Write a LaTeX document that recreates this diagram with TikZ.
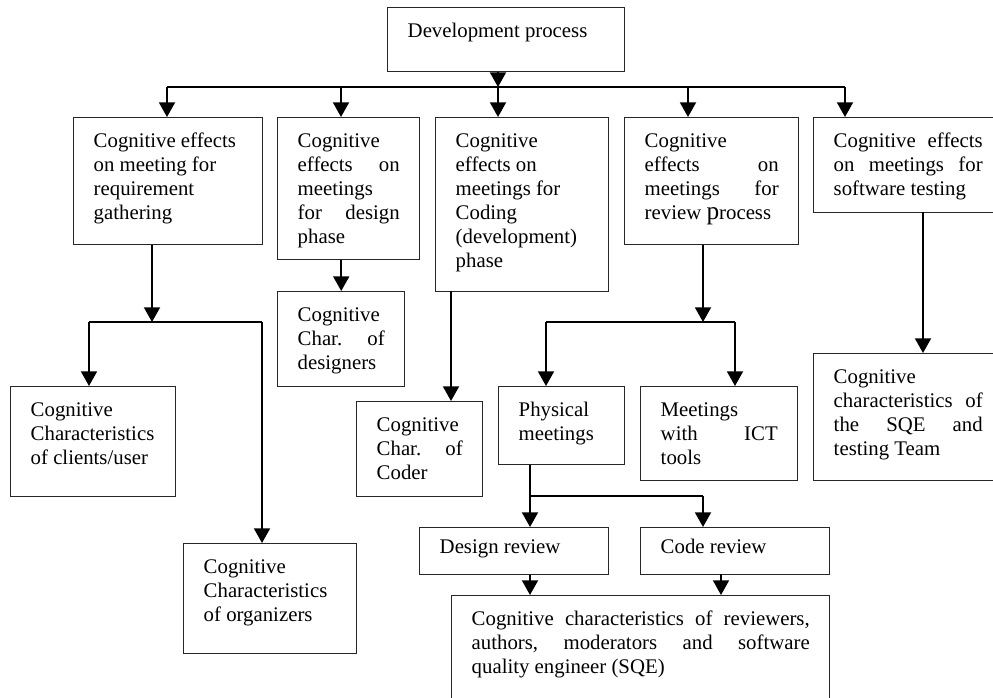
\documentclass[tikz,border=0pt]{standalone}
\usepackage{fontspec}
\setmainfont{Liberation Serif}
\usetikzlibrary{arrows.meta}
\newdimen\px \px=0.75pt
\newcommand{\btext}[4][30]{\parbox[c][#3\px][t]{#2\px}{\raggedright\rule{0pt}{#1\px}#4}}

\begin{document}
\begin{tikzpicture}[x=0.75pt,y=-0.75pt,
 box/.style={draw=black!85, line width=1.1pt, anchor=north west, inner xsep=15pt, inner ysep=0pt, font=\fontsize{15.6}{18}\selectfont},
 ln/.style={line width=1.4pt},
 arr/.style={line width=1.4pt, -{Triangle[width=12pt,length=11pt]}}]
\useasboundingbox (0,0) rectangle (993,698);
\clip (0,0) rectangle (993,698);

\node[box] (dev) at (387,7) {\btext{197}{64}{Development process}};
\node[box] (req) at (73,117) {\btext{149}{127}{Cognitive effects\\on meeting for\\requirement\\gathering}};
\node[box] (des) at (277,117) {\btext{102}{142}{Cognitive\\effects\hfill on\\meetings\\for\hfill design\\phase}};
\node[box] (cod) at (435,117) {\btext{133}{174}{Cognitive\\effects on\\meetings for\\Coding\\(development)\\phase}};
\node[box] (rev) at (624,117) {\btext{134}{127}{Cognitive\\effects\hfill on\\meetings\hfill for\\review {\fontsize{19}{18}\selectfont p}rocess}};
\node[box] (tst) at (813,117) {\btext{149}{95}{Cognitive\hfill effects\\on\hfill meetings\hfill for\\software testing}};

\node[box] (cli) at (10,386) {\btext{125}{110}{Cognitive\\Characteristics\\of clients/user}};
\node[box] (org) at (183,543) {\btext{133}{110}{Cognitive\\Characteristics\\of organizers}};
\node[box] (dsg) at (277,291) {\btext{87}{95}{Cognitive\\Char.\hfill of\\designers}};
\node[box] (cdr) at (356,401) {\btext{86}{95}{Cognitive\\Char.\hfill of\\Coder}};
\node[box] (phy) at (498,386) {\btext{86}{78}{Physical\\meetings}};
\node[box] (ict) at (640,386) {\btext{117}{94}{Meetings\\with\hfill ICT\\tools}};
\node[box] (dr) at (419,527) {\btext[26]{149}{47}{Design review}};
\node[box] (cr) at (640,527) {\btext[26]{149}{47}{Code review}};
\node[box] (sqe) at (813,353) {\btext{149}{127}{Cognitive\\characteristics\hfill of\\the\hfill SQE\hfill and\\testing Team}};
\node[box] (rvw) at (451,595) {\btext{338}{130}{Cognitive\hfill characteristics\hfill of\hfill reviewers,\\authors,\hfill moderators\hfill and\hfill software\\quality engineer (SQE)}};

\coordinate (t0) at (498,87); \coordinate (t1) at (167,87); \coordinate (t2) at (341,87);
\coordinate (t3) at (688,87); \coordinate (t4) at (845,87);
\draw[arr] (dev.south -| t0) -- (t0);
\draw[ln] (t1) -- (t4);
\foreach \b/\t in {req/t1,des/t2,cod/t0,rev/t3,tst/t4}
  \draw[arr] (\t) -- (\t |- \b.north);

\coordinate (u0) at (152,322); \coordinate (u1) at (89,322); \coordinate (u2) at (262,322);
\draw[arr] (req.south -| u0) -- (u0);
\draw[ln] (u1) -- (u2);
\draw[arr] (u1) -- (u1 |- cli.north); \draw[arr] (u2) -- (u2 |- org.north);

\draw[arr] (des.south -| dsg.north) -- (dsg.north);
\coordinate (cx) at (451,291);
\draw[arr] (cx) -- (cx |- cdr.north);

\coordinate (w0) at (703,322); \coordinate (w1) at (546,322); \coordinate (w2) at (735,322);
\draw[arr] (rev.south -| w0) -- (w0);
\draw[ln] (w1) -- (w2);
\draw[arr] (w1) -- (w1 |- phy.north); \draw[arr] (w2) -- (w2 |- ict.north);

\coordinate (p0) at (530,496); \coordinate (p1) at (703,496);
\draw[ln] (phy.south -| p0) -- (p0) -- (p1);
\draw[arr] (p0) -- (p0 |- dr.north); \draw[arr] (p1) -- (p1 |- cr.north);
\draw[arr] (dr.south -| p0) -- (p0 |- rvw.north);
\coordinate (q1) at (721,574);
\draw[arr] (q1) -- (q1 |- rvw.north);

\coordinate (s0) at (923,212);
\draw[arr] (s0) -- (s0 |- sqe.north);
\end{tikzpicture}
\end{document}
